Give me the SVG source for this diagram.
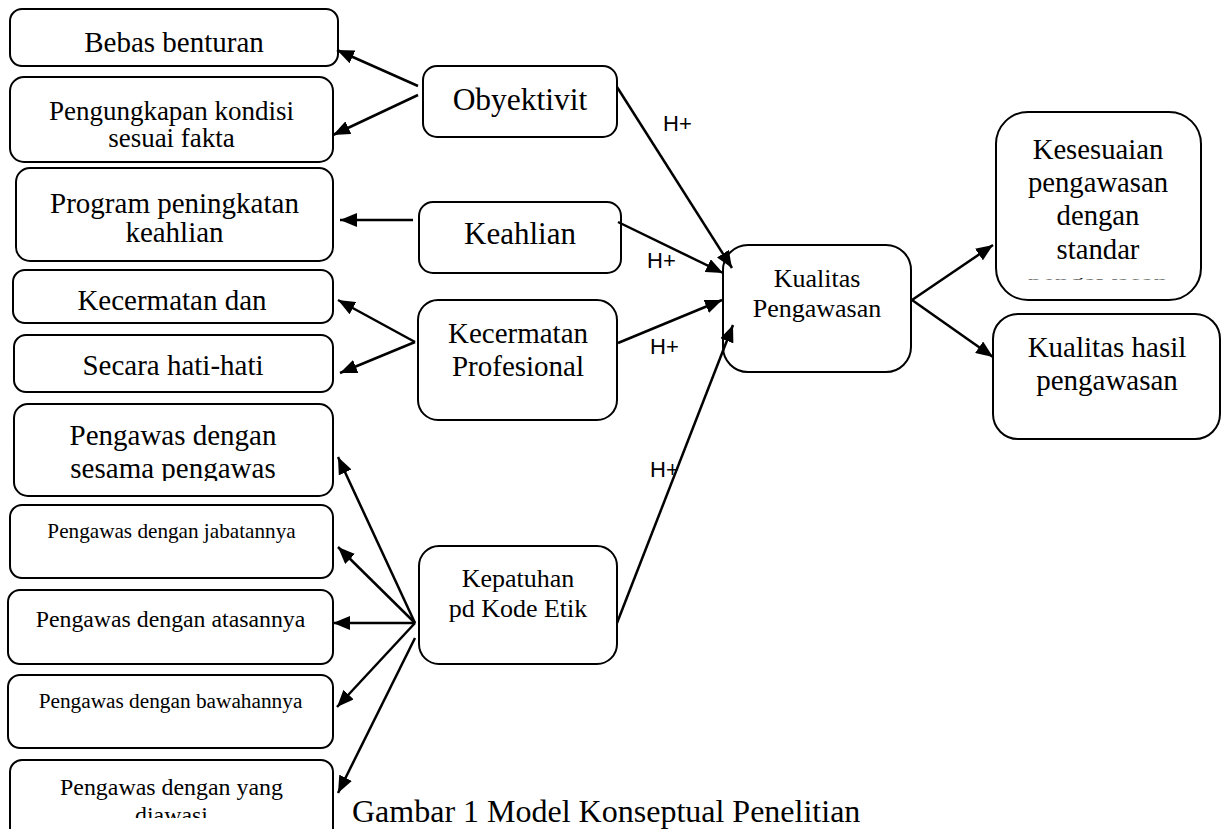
<svg xmlns="http://www.w3.org/2000/svg" width="1222" height="829" viewBox="0 0 1222 829">
<style>
.box{fill:#fff;stroke:#000;stroke-width:2}
.t{font-family:"Liberation Serif","Times New Roman",serif;fill:#000;text-anchor:middle}
.h{font-family:"Liberation Sans",Arial,sans-serif;font-size:22px;fill:#000}
.c{stroke:#000;stroke-width:2.5;fill:none;marker-end:url(#ah)}
</style>
<defs>
<marker id="ah" markerUnits="userSpaceOnUse" markerWidth="18" markerHeight="14" refX="17" refY="7" orient="auto">
<path d="M0,0 L17,7 L0,14 z" fill="#000"/>
</marker>
<clipPath id="c6"><rect x="0" y="400" width="340" height="81"/></clipPath>
<clipPath id="c10"><rect x="0" y="755" width="340" height="63"/></clipPath>
<clipPath id="cK"><rect x="990" y="100" width="220" height="179.5"/></clipPath>
</defs>
<rect width="1222" height="829" fill="#fff"/>

<g id="bebas"><rect class="box" x="10" y="9" width="328" height="57" rx="12"/><text class="t" x="174" y="52" font-size="29">Bebas benturan</text></g>
<g id="pengungkapan"><rect class="box" x="10" y="77" width="323" height="85" rx="14"/><text class="t" x="171.5" y="120" font-size="27">Pengungkapan kondisi</text><text class="t" x="171.5" y="147" font-size="27">sesuai fakta</text></g>
<g id="program"><rect class="box" x="16" y="168" width="317" height="93" rx="14"/><text class="t" x="174.5" y="213" font-size="29">Program peningkatan</text><text class="t" x="174.5" y="242" font-size="29">keahlian</text></g>
<g id="kecermatan-dan"><rect class="box" x="13" y="270" width="320" height="53" rx="12"/><text class="t" x="172" y="310" font-size="29">Kecermatan dan</text></g>
<g id="hati-hati"><rect class="box" x="14" y="335" width="319" height="57" rx="12"/><text class="t" x="173" y="375" font-size="29">Secara hati-hati</text></g>
<g id="sesama"><rect class="box" x="14" y="404" width="319" height="92" rx="14"/><g clip-path="url(#c6)"><text class="t" x="173" y="445" font-size="29">Pengawas dengan</text><text class="t" x="173" y="478" font-size="29">sesama pengawas</text></g></g>
<g id="jabatan"><rect class="box" x="10" y="505" width="323" height="73" rx="12"/><text class="t" x="171.5" y="538" font-size="21.2">Pengawas dengan jabatannya</text></g>
<g id="atasan"><rect class="box" x="8" y="590" width="325" height="74" rx="12"/><text class="t" x="170.5" y="627" font-size="23.8">Pengawas dengan atasannya</text></g>
<g id="bawahan"><rect class="box" x="8" y="675" width="325" height="73" rx="12"/><text class="t" x="170.5" y="708" font-size="21.3">Pengawas dengan bawahannya</text></g>
<g id="diawasi"><rect class="box" x="10" y="760" width="323" height="90" rx="12"/><g clip-path="url(#c10)"><text class="t" x="171.5" y="795" font-size="23.9">Pengawas dengan yang</text><text class="t" x="171.5" y="823" font-size="23.9">diawasi</text></g></g>

<g id="obyektivitas"><rect class="box" x="423" y="66" width="194" height="71" rx="14"/><text class="t" x="520" y="110" font-size="31.5">Obyektivit</text></g>
<g id="keahlian"><rect class="box" x="419" y="202" width="202" height="71" rx="14"/><text class="t" x="520" y="244" font-size="31">Keahlian</text></g>
<g id="kecermatan"><rect class="box" x="418" y="300" width="199" height="120" rx="20"/><text class="t" x="518" y="343" font-size="29">Kecermatan</text><text class="t" x="518" y="376" font-size="29">Profesional</text></g>
<g id="kepatuhan"><rect class="box" x="419" y="546" width="198" height="118" rx="20"/><text class="t" x="518" y="587" font-size="26">Kepatuhan</text><text class="t" x="518" y="617" font-size="26">pd Kode Etik</text></g>
<g id="kualitas"><rect class="box" x="723" y="245" width="188" height="127" rx="25"/><text class="t" x="817" y="287" font-size="26">Kualitas</text><text class="t" x="817" y="317" font-size="26">Pengawasan</text></g>
<g id="kesesuaian"><rect class="box" x="996" y="112" width="205" height="188" rx="32"/><g clip-path="url(#cK)"><text class="t" x="1098" y="159" font-size="28.7">Kesesuaian</text><text class="t" x="1098" y="192" font-size="28.7">pengawasan</text><text class="t" x="1098" y="225" font-size="28.7">dengan</text><text class="t" x="1098" y="259" font-size="28.7">standar</text><text class="t" x="1098" y="293" font-size="28.7">pengawasan</text></g></g>
<g id="hasil"><rect class="box" x="993" y="314" width="227" height="125" rx="25"/><text class="t" x="1107" y="357" font-size="29">Kualitas hasil</text><text class="t" x="1107" y="390" font-size="29">pengawasan</text></g>

<g id="connectors">
<line class="c" x1="418" y1="86" x2="337" y2="50"/>
<line class="c" x1="418" y1="95" x2="333" y2="135"/>
<line class="c" x1="413" y1="220" x2="340" y2="220"/>
<line class="c" x1="415" y1="342" x2="338" y2="300"/>
<line class="c" x1="415" y1="342" x2="340" y2="373"/>
<line class="c" x1="415" y1="623" x2="338" y2="457"/>
<line class="c" x1="415" y1="623" x2="338" y2="547"/>
<line class="c" x1="415" y1="623" x2="333" y2="623"/>
<line class="c" x1="415" y1="623" x2="337" y2="707"/>
<line class="c" x1="415" y1="638" x2="338" y2="793"/>
<line class="c" x1="617" y1="87" x2="732" y2="268"/>
<line class="c" x1="618" y1="222" x2="723" y2="273"/>
<line class="c" x1="618" y1="343" x2="722" y2="300"/>
<line class="c" x1="617" y1="623" x2="733" y2="325"/>
<line class="c" x1="912" y1="300" x2="993" y2="245"/>
<line class="c" x1="912" y1="300" x2="993" y2="357"/>
</g>

<g id="labels">
<text class="h" x="663" y="131">H+</text>
<text class="h" x="647" y="268">H+</text>
<text class="h" x="650" y="354">H+</text>
<text class="h" x="650" y="477">H+</text>
</g>
<text id="caption" x="352" y="822" font-family="'Liberation Serif','Times New Roman',serif" font-size="32">Gambar 1 Model Konseptual Penelitian</text>
</svg>
